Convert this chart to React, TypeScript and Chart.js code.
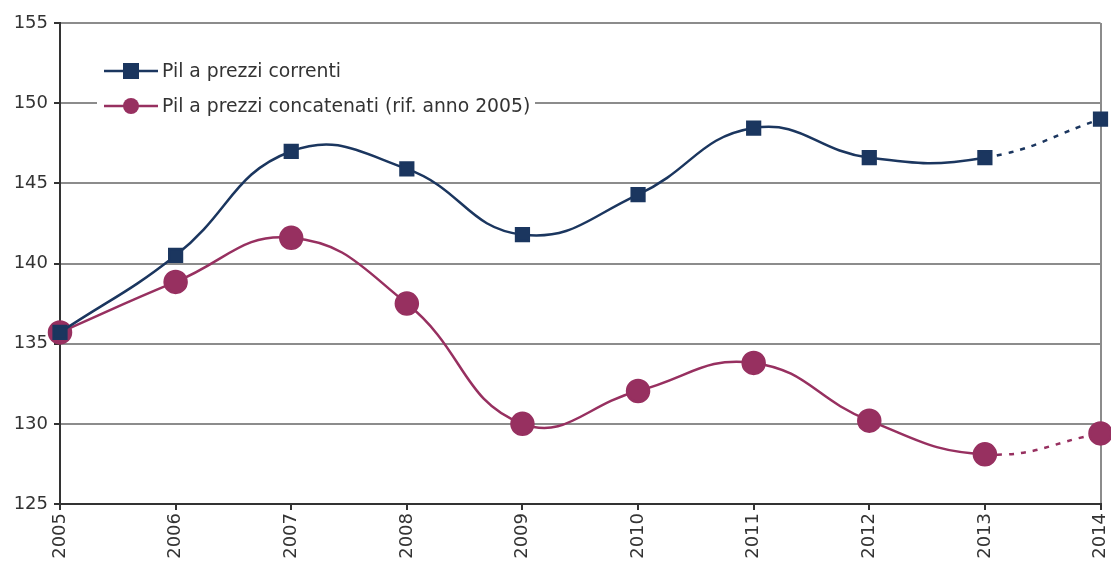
import React, { useEffect, useRef } from "react";
import { Chart, registerables } from "chart.js";

Chart.register(...registerables);

const years = ["2005", "2006", "2007", "2008", "2009", "2010", "2011", "2012", "2013", "2014"];
const pilCorrenti = [135.7, 140.5, 147.0, 145.9, 141.8, 144.3, 148.45, 146.6, 146.6, 149.0];
const pilConcatenati = [135.7, 138.85, 141.6, 137.5, 130.0, 132.05, 133.8, 130.2, 128.1, 129.4];
const seriesLabels = ["Pil a prezzi correnti", "Pil a prezzi concatenati (rif. anno 2005)"];
const yTicks = [125, 130, 135, 140, 145, 150, 155];

const BLUE = "#1b365f";
const RED = "#973060";
const FONT = "'DejaVu Sans', Verdana, sans-serif";

const dashLast = (ctx: any) => (ctx.p0DataIndex === years.length - 2 ? [5, 7] : undefined);

const legendPlugin = {
  id: "customLegend",
  beforeDatasetsDraw(chart: any) {
    const c = chart.ctx;
    c.save();
    c.fillStyle = "#ffffff";
    c.fillRect(97, 52, 438, 72);
    c.font = `18.8px ${FONT}`;
    c.textBaseline = "middle";
    const items = [
      { label: seriesLabels[0], color: BLUE, y: 71, shape: "square" },
      { label: seriesLabels[1], color: RED, y: 106, shape: "circle" },
    ];
    items.forEach((it) => {
      c.strokeStyle = it.color;
      c.lineWidth = 2.5;
      c.beginPath();
      c.moveTo(104, it.y);
      c.lineTo(158, it.y);
      c.stroke();
      c.fillStyle = it.color;
      if (it.shape === "square") {
        c.fillRect(131 - 8, it.y - 8, 16, 16);
      } else {
        c.beginPath();
        c.arc(131, it.y, 8, 0, Math.PI * 2);
        c.fill();
      }
      c.fillStyle = "#333333";
      c.fillText(it.label, 162, it.y + 1);
    });
    c.restore();
  },
};

export default function App() {
  const ref = useRef<HTMLCanvasElement>(null);
  useEffect(() => {
    if (!ref.current) return;
    const chart = new Chart(ref.current, {
      type: "line",
      data: {
        labels: years,
        datasets: [
          {
            label: seriesLabels[0],
            data: pilCorrenti,
            borderColor: BLUE,
            backgroundColor: BLUE,
            borderWidth: 2.5,
            pointStyle: "rect",
            pointRadius: 9,
            pointHoverRadius: 9,
            tension: 0.45,
            segment: { borderDash: dashLast },
          },
          {
            label: seriesLabels[1],
            data: pilConcatenati,
            borderColor: RED,
            backgroundColor: RED,
            borderWidth: 2.5,
            pointStyle: "circle",
            pointRadius: 11,
            pointHoverRadius: 11,
            tension: 0.45,
            segment: { borderDash: dashLast },
          },
        ],
      },
      options: {
        animation: false,
        responsive: true,
        maintainAspectRatio: false,
        layout: { padding: { top: 23, right: 0, left: 0, bottom: 0 } },
        plugins: { legend: { display: false }, tooltip: { enabled: false } },
        scales: {
          x: {
            offset: false,
            grid: {
              color: (ctx: any) => (ctx.index === years.length - 1 ? "#8c8c8c" : "rgba(0,0,0,0)"),
              lineWidth: 2,
              tickColor: "#333333",
              tickLength: 6,
              drawTicks: true,
            },
            border: { color: "#333333", width: 2 },
            ticks: {
              minRotation: 90,
              maxRotation: 90,
              color: "#333333",
              font: { family: FONT, size: 18 },
              padding: 3,
            },
            afterFit: (s: any) => {
              s.height = 63;
              s.paddingLeft = 0;
              s.paddingRight = 0;
            },
          },
          y: {
            min: 125,
            max: 155,
            afterBuildTicks: (s: any) => {
              s.ticks = yTicks.map((v) => ({ value: v }));
            },
            grid: {
              color: "#8c8c8c",
              lineWidth: 2,
              tickColor: "#333333",
              tickLength: 6,
            },
            border: { color: "#333333", width: 2 },
            ticks: {
              color: "#333333",
              font: { family: FONT, size: 18 },
              padding: 6,
            },
            afterFit: (s: any) => {
              s.width = 60;
              s.paddingTop = 0;
              s.paddingBottom = 0;
            },
          },
        },
      },
      plugins: [legendPlugin],
    });
    return () => chart.destroy();
  }, []);
  return (
    <div style={{ position: "fixed", left: 0, top: 0, width: 1114, height: 567, background: "#fff" }}>
      <canvas ref={ref} />
    </div>
  );
}
